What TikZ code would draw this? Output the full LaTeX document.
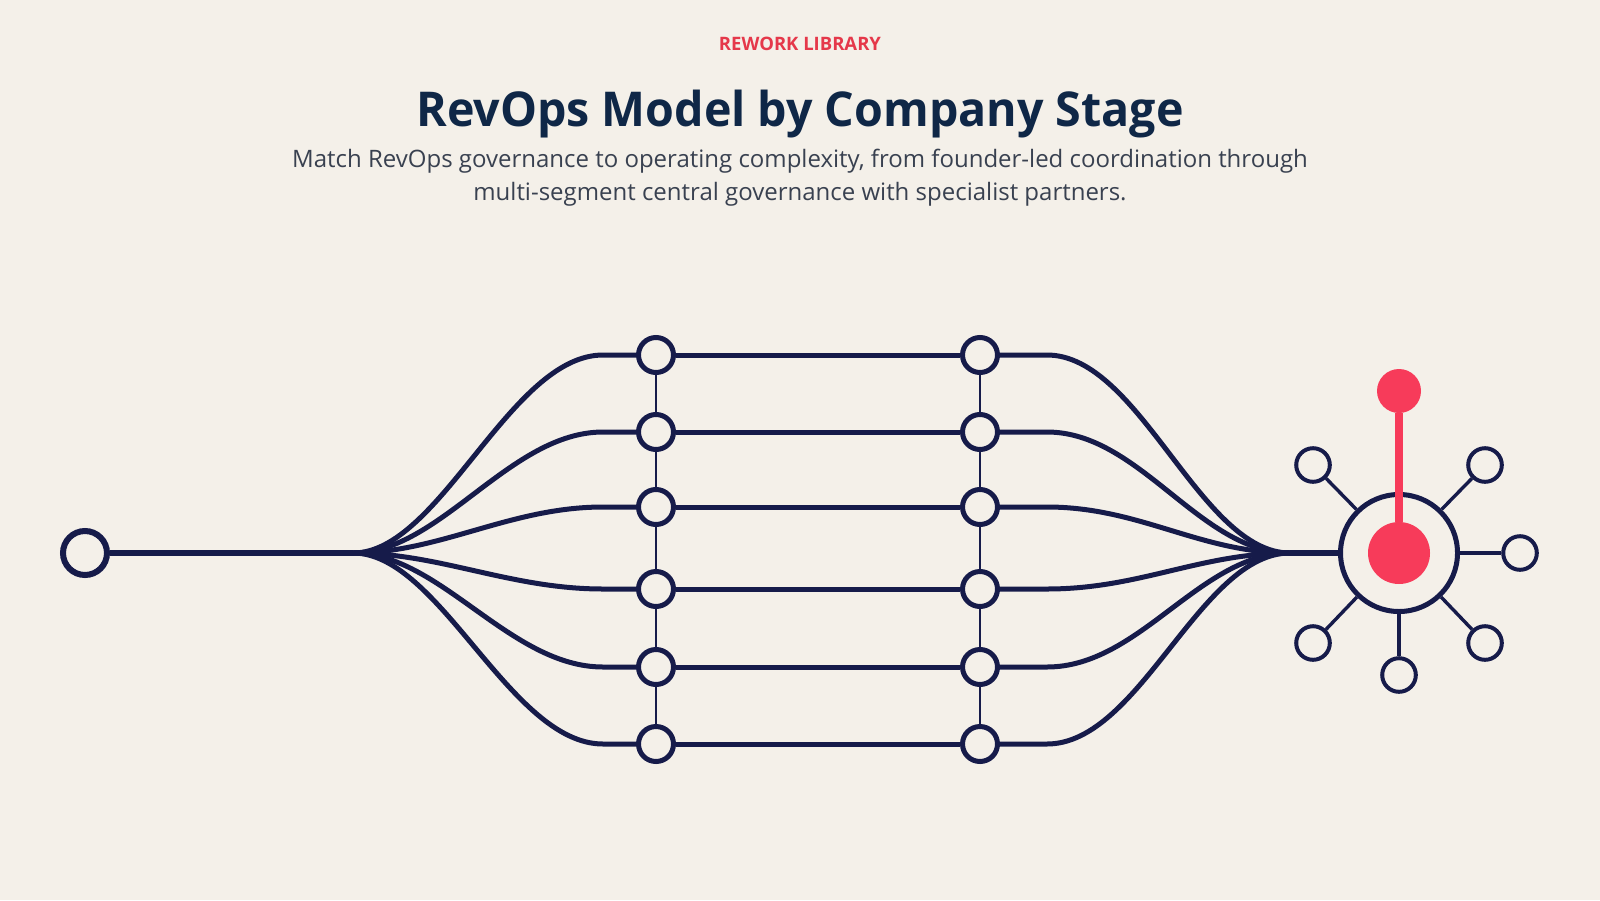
\documentclass[tikz,border=0pt]{standalone}
\usepackage{fontspec}
\setmainfont{Open Sans}
\usetikzlibrary{calc}
\definecolor{bg}{HTML}{F4F0E9}
\definecolor{ink}{HTML}{161B4A}
\definecolor{titleblue}{HTML}{0F2747}
\definecolor{accent}{HTML}{F73B5A}
\definecolor{kicker}{HTML}{E5384A}
\definecolor{subgray}{HTML}{394150}
\begin{document}
\begin{tikzpicture}[x=1pt,y=-1pt,
  port/.style={circle, draw=ink, line width=5pt, fill=bg, minimum size=35pt, inner sep=0pt},
  startport/.style={port, line width=6pt, minimum size=44pt},
  sat/.style={circle, draw=ink, line width=4pt, fill=bg, minimum size=33.6pt, inner sep=0pt},
  hubring/.style={circle, draw=ink, line width=5pt, fill=bg, minimum size=117pt, inner sep=0pt},
  dot/.style={circle, fill=accent, inner sep=0pt},
  trunk/.style={draw=ink, line width=5pt},
  rung/.style={draw=ink, line width=1.8pt},
  spoke/.style={draw=ink, line width=3.4pt},
  stem/.style={draw=accent, line width=8pt}]
% canvas
\fill[bg] (0,0) rectangle (1600,900);
\useasboundingbox (0,0) rectangle (1600,900);

% heading
\node[anchor=base, font=\bfseries\fontsize{18.5}{22}\selectfont, text=kicker] (kick) at (800,50) {REWORK LIBRARY};
\node[anchor=base, font=\bfseries\fontsize{48}{58}\selectfont, text=titleblue] (title) at (800,126) {\scalebox{0.97}[1]{RevOps Model by Company Stage}};
\node[anchor=base, font=\fontsize{24}{33}\selectfont, text=subgray] (sub1) at (800,167) {Match RevOps governance to operating complexity, from founder-led coordination through};
\node[anchor=base, font=\fontsize{24}{33}\selectfont, text=subgray] (sub2) at (800,200) {multi-segment central governance with specialist partners.};

% entry point and fan-out
\node[startport] (start) at (85,553) {};
\coordinate (cL) at (353,553);
\coordinate (cR) at (1290,553);

\foreach \i/\y in {1/355,2/432,3/507,4/589,5/667,6/744} {
  \node[port] (L\i) at (656,\y) {};
  \node[port] (R\i) at (980,\y) {};
}

\draw[trunk, line width=5.5pt] (start) -- (cL);
\foreach \i/\y in {1/355,2/432,3/507,4/589,5/667,6/744} {
  \draw[trunk] (cL) .. controls (440,553) and (510,\y) .. (603,\y) -- (L\i);
  \draw[trunk] (L\i) -- (R\i);
  \draw[trunk] (R\i) -- (1047,\y) .. controls (1140,\y) and (1200,553) .. (cR);
}
\foreach \i [evaluate=\i as \j using int(\i+1)] in {1,...,5} {
  \draw[rung] (L\i) -- (L\j);
  \draw[rung] (R\i) -- (R\j);
}

% hub with satellites
\node[hubring] (hub) at (1399,553) {};
\draw[trunk, line width=5.5pt] (cR) -- (hub);
\node[sat] (se) at (1520,553) {};
\node[sat] (sne) at (1485,465) {};
\node[sat] (snw) at (1313,465) {};
\node[sat] (ssw) at (1313,643) {};
\node[sat] (sse) at (1485,643) {};
\node[sat] (ss) at (1399,675) {};
\foreach \n in {se,sne,snw,ssw,sse,ss} {
  \draw[spoke] (hub) -- (\n);
}

% red core and beacon
\node[dot, minimum size=62pt] (core) at (1399,553) {};
\node[dot, minimum size=44pt] (tip) at (1399,391) {};
\draw[stem] (tip) -- (core);
\end{tikzpicture}
\end{document}
